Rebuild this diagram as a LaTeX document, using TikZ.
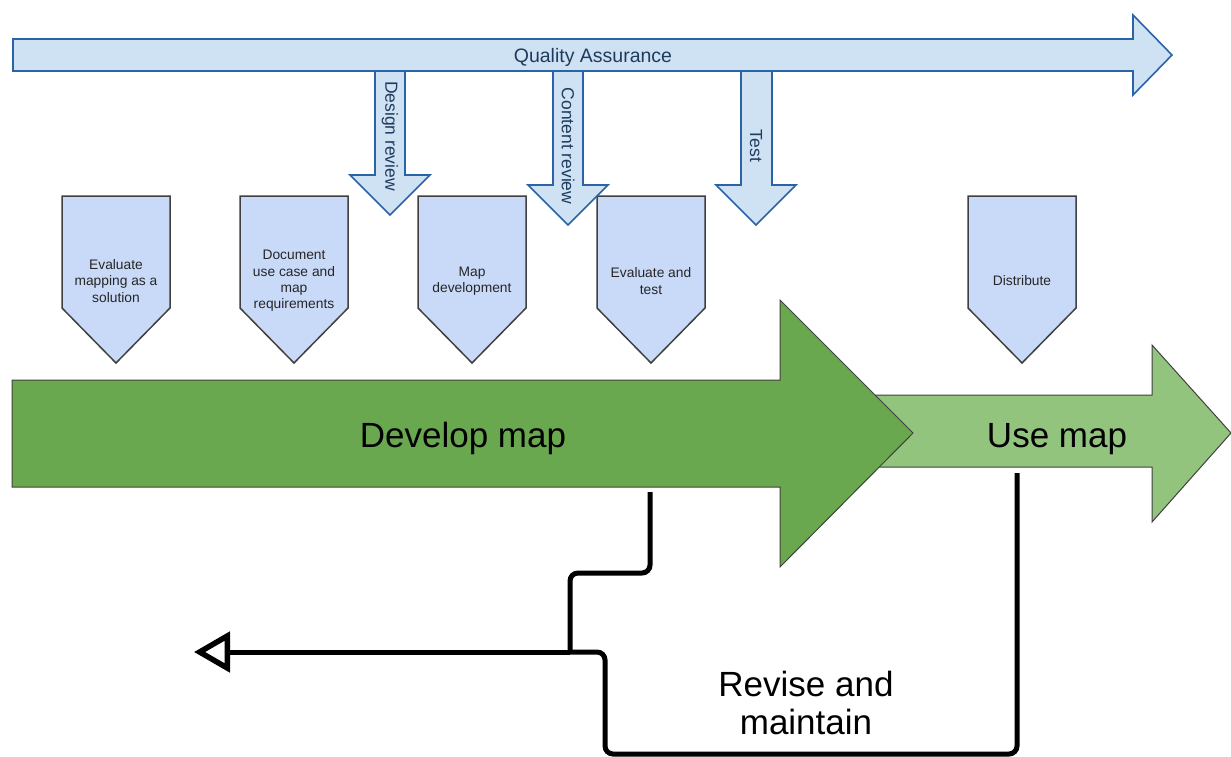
\documentclass[tikz,border=0pt]{standalone}
\usepackage{fontspec}
\setmainfont{Liberation Sans}
\usetikzlibrary{arrows.meta}

\definecolor{qafill}{HTML}{CFE2F3}
\definecolor{qaline}{HTML}{2B64A6}
\definecolor{qatext}{HTML}{1F3B5E}
\definecolor{stagefill}{HTML}{C9DAF8}
\definecolor{stageline}{HTML}{404040}
\definecolor{devgreen}{HTML}{6AA84F}
\definecolor{usegreen}{HTML}{93C47D}

\begin{document}
\begin{tikzpicture}[x=1pt,y=-1pt,
  qashape/.style={fill=qafill,draw=qaline,line width=1.6pt,line join=miter},
  qalabel/.style={text=qatext,font=\fontsize{17.5}{20}\selectfont,inner sep=0pt},
  stageshape/.style={fill=stagefill,draw=stageline,line width=1.5pt,line join=miter},
  stagelabel/.style={text=black!85,font=\fontsize{13.8}{16.3}\selectfont,align=center,inner sep=0pt},
  phaseshape/.style={draw=black!75,line width=1pt,line join=miter},
  phaselabel/.style={font=\fontsize{35}{38}\selectfont,align=center,inner sep=0pt},
  feedback/.style={draw=black,line width=5pt,rounded corners=8pt},
]
\useasboundingbox (0,0) rectangle (1231,757);

% ---- process stages (pentagons pointing down) ----
\foreach \x/\name in {62/s1,240/s2,418/s3,597/s4,968/s5}{
  \path[stageshape] (\x,196) -- ++(108,0) -- ++(0,112) -- ++(-54,55) -- ++(-54,-55) -- cycle;
  \coordinate (\name) at (\x+54,281);
}
\node[stagelabel] (evalmap) at (s1) {Evaluate\\mapping as a\\solution};
\node[stagelabel] (docreq) at (s2) {Document\\use case and\\map\\requirements};
\node[stagelabel] (mapdev) at (s3) {Map\\development};
\node[stagelabel] (evaltest) at (s4) {Evaluate and\\test};
\node[stagelabel] (distrib) at (s5) {Distribute};

% ---- quality assurance reviews dropping from the QA band ----
\path[qashape] (375,71) -- (405,71) -- (405,175) -- (430,175) -- (390,215)
  -- (350,175) -- (375,175) -- cycle;
\path[qashape] (553,71) -- (583,71) -- (583,185) -- (608,185) -- (568,225)
  -- (528,185) -- (553,185) -- cycle;
\path[qashape] (741,71) -- (772,71) -- (772,185) -- (796,185) -- (756,225)
  -- (716,185) -- (741,185) -- cycle;
\node[qalabel,rotate=-90] (design) at (390,136) {Design review};
\node[qalabel,rotate=-90] (content) at (568,146) {Content review};
\node[qalabel,rotate=-90] (test) at (756,146) {Test};

% ---- quality assurance band ----
\path[qashape] (13,39) -- (1133,39) -- (1133,15) -- (1172,55) -- (1133,95)
  -- (1133,71) -- (13,71) -- cycle;
\node[qalabel,font=\fontsize{19.5}{22}\selectfont] (qa) at (593,57) {Quality Assurance};

% ---- phases ----
\path[phaseshape,fill=usegreen] (870,395) -- (1152,395) -- (1152,345) -- (1231,433)
  -- (1152,522) -- (1152,467) -- (870,467) -- cycle;
\path[phaseshape,fill=devgreen] (12,380) -- (780,380) -- (780,300) -- (913,433)
  -- (780,567) -- (780,487) -- (12,487) -- cycle;
\node[phaselabel,anchor=base] (develop) at (463,447) {Develop map};
\node[phaselabel,anchor=base] (use) at (1057,447) {Use map};

% ---- revise and maintain loop ----
\coordinate (devout) at (650,492);
\coordinate (useout) at (1017,473);
\coordinate (join) at (570,652);
\coordinate (loopend) at (194,652);
\draw[feedback] (devout) -- (650,573) -- (570,573) -- (join);
\draw[feedback] (useout) -- (1017,754) -- (605,754) -- (605,652) -- (join);
\draw[feedback,rounded corners=0pt,-{Triangle[open,length=36pt,width=40pt,line width=5.5pt]}]
  (join) -- (loopend);
\node[phaselabel] (revise) at (806,703) {Revise and\\maintain};
\end{tikzpicture}
\end{document}
